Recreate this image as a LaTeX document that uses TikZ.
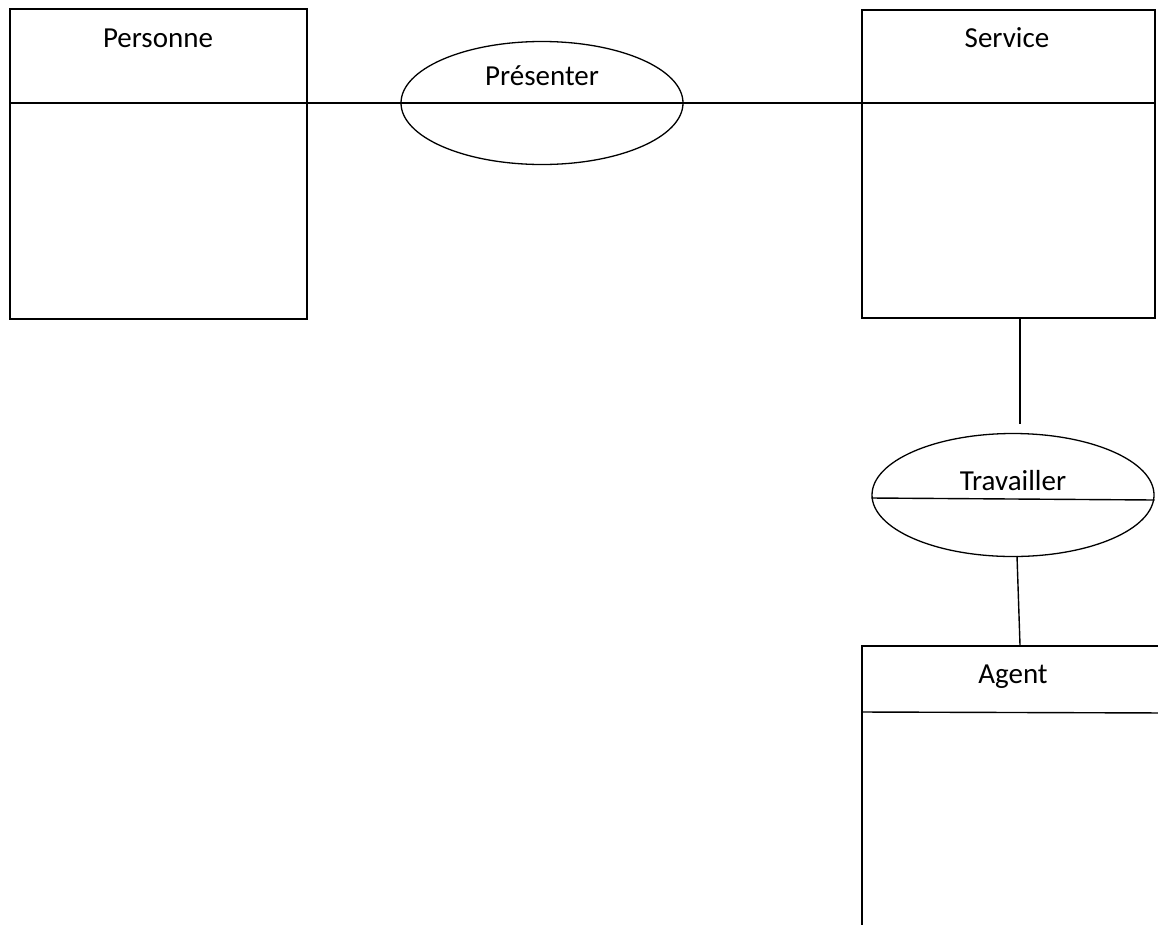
\documentclass[tikz,border=0pt]{standalone}
\usepackage{fontspec}
\setmainfont{Carlito}
\usetikzlibrary{shapes.geometric}
\begin{document}
\begin{tikzpicture}[x=1pt,y=-1pt,
  entity/.style={draw,line width=1.6pt,rectangle,inner sep=0pt,anchor=north west},
  assoc/.style={draw,line width=1.3pt,ellipse,inner sep=0pt},
  link/.style={line width=1.4pt},
  lbl/.style={font=\fontsize{29}{34}\selectfont,anchor=base,inner sep=0pt}]
\useasboundingbox (0,0) rectangle (1158,924);
\clip (0,0) rectangle (1158,924);
% entities
\node[entity,minimum width=297pt,minimum height=310pt] (pers) at (9,8) {};
\node[entity,minimum width=293pt,minimum height=308pt] (serv) at (861,9) {};
\node[entity,minimum width=310pt,minimum height=300pt] (agent) at (861,645) {};
\coordinate (persL) at (9,103); \coordinate (persR) at (306,103);
\coordinate (servL) at (861,103); \coordinate (servR) at (1154,103);
\coordinate (agentL) at (861,712); \coordinate (agentR) at (1171,713);
\draw[link] (persL) -- (persR);
\draw[link] (servL) -- (servR);
\draw[link] (agentL) -- (agentR);
\node[lbl] (tpers) at (158,47) {Personne};
\node[lbl] (tserv) at (1007,47) {Service};
\node[lbl] (tagent) at (1013,683) {Agent};
% associations
\node[assoc,minimum width=282pt,minimum height=123pt] (pres) at (542,103) {};
\node[assoc,minimum width=282pt,minimum height=123pt] (trav) at (1013,495) {};
\draw[link] (pres.west) -- (pres.east);
\path (trav.west) ++(0,3) coordinate (travL) (trav.east) ++(0,5) coordinate (travR);
\draw[link] (travL) -- (travR);
\node[lbl] (tpres) at (542,85) {Présenter};
\node[lbl] (ttrav) at (1013,490) {Travailler};
% connectors
\draw[link] (persR) -- (pres.west);
\draw[link] (pres.east) -- (servL);
\coordinate (servB) at (1020,317);
\coordinate (linkEnd) at (1020,424);
\draw[link] (servB) -- (linkEnd);
\coordinate (travB) at (1017,556);
\coordinate (agentT) at (1020,645);
\draw[link] (travB) -- (agentT);
\end{tikzpicture}
\end{document}
